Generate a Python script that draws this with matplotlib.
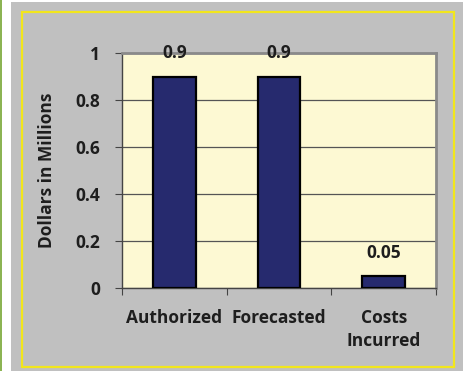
import matplotlib.pyplot as plt
from matplotlib.patches import Rectangle

# datos
categorias = ["Authorized", "Forecasted", "Costs\nIncurred"]
valores = [0.9, 0.9, 0.05]
etiquetas = ["0.9", "0.9", "0.05"]
yticks = [0, 0.2, 0.4, 0.6, 0.8, 1]
ytick_labels = ["0", "0.2", "0.4", "0.6", "0.8", "1"]

plt.rcParams['font.family'] = ['Open Sans', 'DejaVu Sans']
plt.rcParams['font.weight'] = 'bold'

W, H = 465, 371
FS = 12.5
TXT = '#1e1e1e'
fig = plt.figure(figsize=(W / 100, H / 100), dpi=100)
fig.patch.set_facecolor('white')

# marco exterior (verde, gris, amarillo)
fig.patches.append(Rectangle((0, 0), 2 / W, 1, transform=fig.transFigure,
                             facecolor='#8cb453', edgecolor='none', zorder=-3))
fig.patches.append(Rectangle((11 / W, 0), 452 / W, 369 / H, transform=fig.transFigure,
                             facecolor='#c0c0c0', edgecolor='none', zorder=-2))
fig.patches.append(Rectangle((22 / W, 4 / H), 432 / W, 355 / H, transform=fig.transFigure,
                             facecolor='none', edgecolor='#f2e61c', lw=1.6, zorder=-1))

ax = fig.add_axes([122 / W, 83 / H, 314 / W, 235 / H])
ax.set_zorder(1)
ax.set_facecolor('#fdf9d3')

x = range(len(categorias))
ax.bar(x, valores, width=0.41, color='#262a6e', edgecolor='black', linewidth=1.6, zorder=3)

for i, v in enumerate(valores):
    ax.annotate(etiquetas[i], (i, v), xytext=(0, 17), textcoords='offset points',
                ha='center', va='center', fontsize=FS, fontweight='bold',
                color=TXT, zorder=4, annotation_clip=False)

ax.set_xlim(-0.5, 2.5)
ax.set_ylim(0, 1)
ax.set_yticks(yticks)
ax.set_yticklabels(ytick_labels)
ax.yaxis.grid(True, color='#555555', lw=0.9, zorder=1)
ax.set_xticks([-0.5, 0.5, 1.5, 2.5], minor=False)
ax.set_xticklabels([])
ax.set_xticks(list(x), minor=True)
ax.set_xticklabels(categorias, minor=True, linespacing=1.35)
ax.tick_params(axis='x', which='minor', length=0, pad=15, labelsize=FS, labelcolor=TXT)
ax.tick_params(axis='x', which='major', length=5, color='#444444')
ax.tick_params(axis='y', length=5, pad=11, labelsize=FS, labelcolor=TXT, color='#444444')

for s in ['left', 'bottom']:
    ax.spines[s].set_color('#444444')
    ax.spines[s].set_linewidth(1.0)
for s in ['top', 'right']:
    ax.spines[s].set_color('#8a8a8a')
    ax.spines[s].set_linewidth(2.0)

ax.set_ylabel("Dollars in Millions", fontsize=FS, fontweight='bold', color=TXT, labelpad=14)

fig.savefig('out.png', dpi=100, facecolor=fig.get_facecolor())
